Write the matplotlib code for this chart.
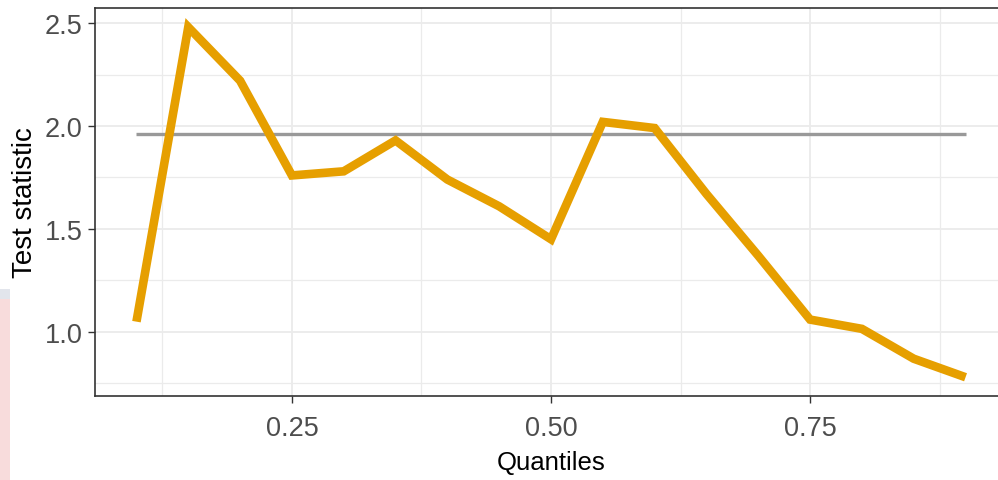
import matplotlib
matplotlib.use("Agg")
import matplotlib.pyplot as plt
from matplotlib.patches import Rectangle
from matplotlib.ticker import FixedLocator

# Quantile levels and the test statistic at each level
quantiles = [0.10, 0.15, 0.20, 0.25, 0.30, 0.35, 0.40, 0.45, 0.50,
             0.55, 0.60, 0.65, 0.70, 0.75, 0.80, 0.85, 0.90]
statistic = [1.05, 2.48, 2.22, 1.76, 1.78, 1.93, 1.74, 1.61, 1.45,
             2.02, 1.99, 1.67, 1.37, 1.06, 1.015, 0.87, 0.78]

# Critical value reference line
critical_value = 1.96

x_ticks = [0.25, 0.50, 0.75]
x_tick_labels = ["0.25", "0.50", "0.75"]
y_ticks = [1.0, 1.5, 2.0, 2.5]
y_tick_labels = ["1.0", "1.5", "2.0", "2.5"]

plt.rcParams["font.family"] = ["Liberation Sans", "DejaVu Sans"]

W, H = 998, 481
fig = plt.figure(figsize=(W / 100, H / 100), dpi=100)
fig.patch.set_facecolor("white")

# small coloured strip at the left edge
fig.patches.append(Rectangle((0, 0), 10 / W, (H - 300) / H, transform=fig.transFigure,
                             facecolor="#F8DCDC", edgecolor="none", zorder=0))
fig.patches.append(Rectangle((0, (H - 300) / H), 10 / W, 10 / H, transform=fig.transFigure,
                             facecolor="#E2E5EC", edgecolor="none", zorder=0))

left, right, top, bottom = 95, 1007, 9, 397
ax = fig.add_axes([left / W, (H - bottom) / H, (right - left) / W, (bottom - top) / H])

x0, x1 = 0.10, 0.90
pad = (x1 - x0) * 0.05
ax.set_xlim(x0 - pad, x1 + pad)
ax.set_ylim(0.689, 2.573)

ax.xaxis.set_major_locator(FixedLocator(x_ticks))
ax.xaxis.set_minor_locator(FixedLocator([0.125, 0.375, 0.625, 0.875]))
ax.yaxis.set_major_locator(FixedLocator(y_ticks))
ax.yaxis.set_minor_locator(FixedLocator([0.75, 1.25, 1.75, 2.25]))
ax.set_xticklabels(x_tick_labels)
ax.set_yticklabels(y_tick_labels)

ax.grid(which="major", color="#EBEBEB", linewidth=1.3, zorder=0)
ax.grid(which="minor", color="#EBEBEB", linewidth=0.9, zorder=0)
ax.set_axisbelow(True)

ax.tick_params(which="major", length=5, width=1.0, color="#333333",
               labelsize=19.5, labelcolor="#4D4D4D", pad=4)
ax.tick_params(axis="x", which="major", pad=9)
ax.tick_params(which="minor", length=0)

for sp in ax.spines.values():
    sp.set_color("#333333")
    sp.set_linewidth(1.2)

ax.plot([x0, x1], [critical_value, critical_value], color="#999999",
        linewidth=2.4, solid_capstyle="butt", zorder=2)
ax.plot(quantiles, statistic, color="#E69F00", linewidth=6.2,
        solid_joinstyle="miter", solid_capstyle="butt", zorder=3)

ax.set_xlabel("Quantiles", fontsize=18.5, color="black", labelpad=6)
ax.set_ylabel("Test statistic", fontsize=20, color="black", labelpad=5)

fig.savefig("out.png", dpi=100)
